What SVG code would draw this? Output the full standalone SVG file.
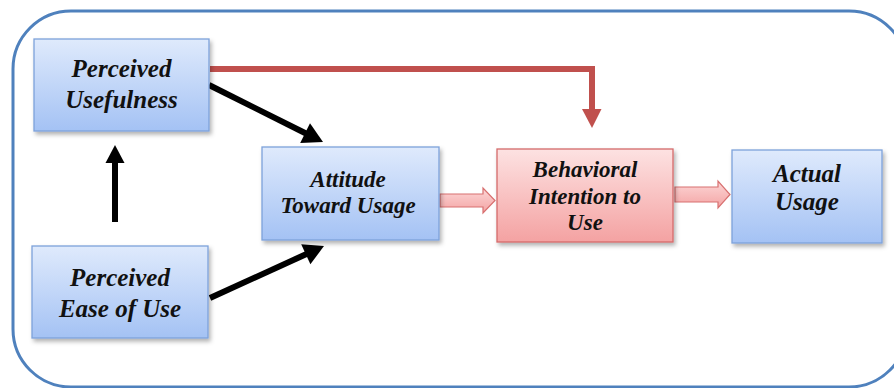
<svg xmlns="http://www.w3.org/2000/svg" width="894" height="388" viewBox="0 0 894 388">
<defs>
<linearGradient id="gBlue" x1="0" y1="0" x2="0" y2="1">
<stop offset="0" stop-color="#dfeafc"/>
<stop offset="1" stop-color="#a4c2f4"/>
</linearGradient>
<linearGradient id="gPink" x1="0" y1="0" x2="0" y2="1">
<stop offset="0" stop-color="#fde2e2"/>
<stop offset="1" stop-color="#f4a2a2"/>
</linearGradient>
<linearGradient id="gArrow" x1="0" y1="0" x2="0" y2="1">
<stop offset="0" stop-color="#fcd6d6"/>
<stop offset="1" stop-color="#f4a4a4"/>
</linearGradient>
<filter id="sh" x="-10%" y="-10%" width="125%" height="130%">
<feDropShadow dx="2" dy="3" stdDeviation="2" flood-color="#000" flood-opacity="0.3"/>
</filter>
</defs>
<style>
.blue{fill:url(#gBlue);stroke:#7da2da;stroke-width:1.3;filter:url(#sh)}
.pink{fill:url(#gPink);stroke:#d46a6a;stroke-width:1.3;filter:url(#sh)}
.t{font-family:"Liberation Serif","Times New Roman",serif;font-weight:bold;font-style:italic;fill:#111;text-anchor:middle}
.big{font-size:25px}
.mid{font-size:23px}
.blk{stroke:#000;stroke-width:6;fill:none}
.blkh{fill:#000}
.red{stroke:#c0504d;stroke-width:6;fill:none}
.redh{fill:#c0504d}
.blockarrow{fill:url(#gArrow);stroke:#d87070;stroke-width:1.2}
</style>
<rect x="13" y="11" width="894" height="376" rx="58" ry="58" fill="#fff" stroke="#4f81bd" stroke-width="3"/>

<g id="connectors">
<path class="blk" d="M115,222 V161"/>
<polygon class="blkh" points="115,145 124.5,163 105.5,163"/>
<path class="blk" d="M209,85 L306,133.5"/>
<polygon class="blkh" points="323,142 300.2,142.9 310,123.3"/>
<path class="blk" d="M210,298 L306.5,254"/>
<polygon class="blkh" points="324,246 310.4,264.3 301.2,244.3"/>
<path class="red" d="M210,69 H592 V111"/>
<polygon class="redh" points="582,109 601.5,109 592,128"/>
<path class="blockarrow" d="M440,194 H483 V188 L495,200.5 L483,213 V207 H440 Z"/>
<path class="blockarrow" d="M675,187 H718 V181 L730,194.5 L718,208 V202 H675 Z"/>
</g>

<g id="perceived-usefulness">
<rect class="blue" x="34" y="39" width="175" height="92"/>
<text class="t big" x="121.5" y="77">Perceived</text>
<text class="t big" x="121.5" y="108">Usefulness</text>
</g>

<g id="perceived-ease-of-use">
<rect class="blue" x="32" y="246" width="176" height="92"/>
<text class="t big" x="120" y="286">Perceived</text>
<text class="t big" x="120" y="317">Ease of Use</text>
</g>

<g id="attitude">
<rect class="blue" x="262" y="147" width="177" height="93"/>
<text class="t mid" x="348" y="187">Attitude</text>
<text class="t mid" x="348" y="213">Toward Usage</text>
</g>

<g id="behavioral-intention">
<rect class="pink" x="497" y="149" width="176" height="93"/>
<text class="t mid" x="585" y="177">Behavioral</text>
<text class="t mid" x="585" y="204">Intention to</text>
<text class="t mid" x="585" y="230">Use</text>
</g>

<g id="actual-usage">
<rect class="blue" x="732" y="150" width="150" height="93"/>
<text class="t big" x="807" y="182">Actual</text>
<text class="t big" x="807" y="210">Usage</text>
</g>
</svg>
